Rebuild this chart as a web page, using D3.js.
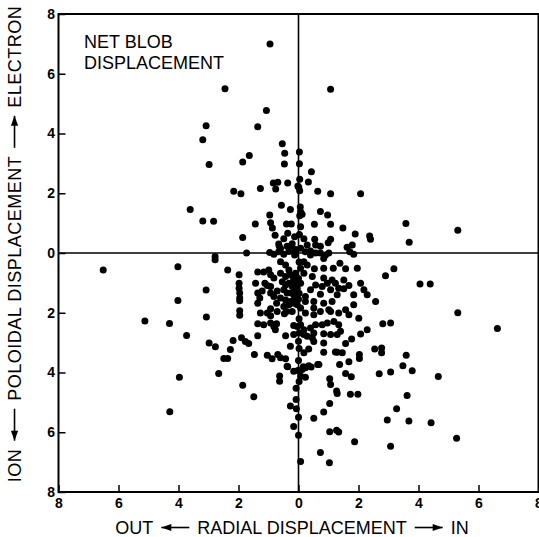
<!DOCTYPE html>
<html>
<head>
<meta charset="utf-8">
<script src="https://cdn.jsdelivr.net/npm/d3@7"></script>
<style>
	body { margin: 0; background: #fff; }
	svg { display: block; font-family: "Liberation Sans", Arial, Helvetica, sans-serif; }
</style>
</head>
<body>
<div id="chart"></div>
<script>

// --------------------------------------------------------
// Blob displacements [radial, poloidal]
// (radial: + = in, poloidal: + = electron direction)

var upper_left = [
	[-0.95,7.0],[-2.45,5.5],[-1.07,4.77],[-3.08,4.26],[-1.36,4.23],[-3.19,3.79],[-0.54,3.66],
	[-0.46,3.34],[-1.64,3.26],[-2.98,2.96],[-1.86,3.05],[-0.47,2.98],[-0.84,2.34],[-0.69,2.37],
	[-0.36,2.34],[-0.76,2.14],[-1.27,2.16],[-2.16,2.07],[-1.92,1.98],[-0.02,2.24],[-3.61,1.46],
	[-3.19,1.07],[-2.83,1.06],[-0.57,1.6],[-0.27,1.46],[-0.96,1.27],[-1.44,0.97],[-0.4,0.97],
	[-0.24,0.97],[-0.93,1.01],[-0.87,0.84],[-1.86,0.52],[-0.78,0.59],[-0.36,0.66],[-0.49,0.48],
	[-0.13,0.54],[-0.38,0.23],[-0.27,0.23],[-0.64,0.23],[-0.66,0.3],[-0.6,0.14],[-0.21,0.31],
	[-0.1,0.12],[-0.96,0.02],[-0.66,0.04],[-0.32,0.05],[-0.1,0.04],[-1.73,0.0]
];

var upper_right = [
	[1.07,5.48],[0.03,3.38],[0.03,2.99],[0.43,2.72],[0.33,2.38],[0.04,2.47],[0.01,2.2],
	[0.04,2.08],[0.64,2.07],[1.07,1.98],[2.07,1.98],[0.06,1.54],[0.07,1.38],[0.12,1.3],
	[0.04,1.25],[0.73,1.39],[0.97,1.27],[0.07,0.88],[0.03,0.62],[0.53,0.96],[1.07,0.96],
	[1.48,0.84],[1.89,0.64],[2.37,0.57],[2.4,0.46],[3.58,0.99],[5.31,0.76],[3.69,0.36],
	[0.18,0.48],[0.54,0.46],[1.07,0.46],[0.99,0.34],[0.73,0.23],[0.29,0.27],[0.57,0.27],
	[1.62,0.19],[1.79,0.27],[1.71,0.04],[0.4,0.07],[0.07,0.16],[0.23,0.04],[0.57,0.0],
	[0.73,0.0],[1.01,0.0]
];

var lower_left = [
	[-0.82,-0.04],[-0.49,-0.04],[-0.13,-0.07],
	[-6.51,-0.57],[-4.02,-0.46],[-2.78,-0.12],[-2.78,-0.23],[-2.36,-0.57],[-1.98,-0.73],
	[-1.36,-0.64],[-1.16,-0.64],[-0.99,-0.57],[-0.93,-0.73],[-0.82,-0.84],[-0.6,-0.29],
	[-0.43,-0.4],[-0.32,-0.57],[-0.6,-0.68],[-0.43,-0.79],[-0.27,-0.73],[-0.16,-0.84],[-0.1,-0.68],
	[-1.98,-1.01],[-1.98,-1.18],[-1.96,-1.34],[-1.96,-1.51],[-1.96,-1.6],[-1.96,-1.93],[-1.96,-2.08],
	[-3.08,-1.24],[-4.02,-1.59],[-1.43,-1.01],[-1.36,-1.34],[-1.29,-1.51],[-1.36,-1.68],
	[-1.12,-1.01],[-1.04,-1.09],[-0.93,-1.12],[-1.21,-1.27],[-0.93,-1.34],[-0.82,-1.46],
	[-0.71,-1.27],[-0.54,-0.96],[-0.43,-1.07],[-0.32,-1.01],[-0.21,-1.12],[-0.1,-1.01],
	[-0.49,-1.23],[-0.38,-1.34],[-0.24,-1.34],[-0.1,-1.29],[-0.6,-1.51],[-0.43,-1.57],
	[-0.27,-1.62],[-0.13,-1.51],[-0.73,-1.68],[-0.49,-1.79],[-0.32,-1.73],[-0.04,-1.73],
	[-0.93,-1.87],[-0.71,-1.96],[-0.4,-1.96],[-0.21,-1.96],[-1.04,-2.01],[-1.27,-2.01],
	[-0.16,-0.9],[-0.04,-1.18],[-0.16,-1.4],[-0.16,-1.68],
	[-4.3,-2.36],[-3.07,-2.14],[-3.73,-2.76],[-2.98,-3.01],[-2.77,-3.14],[-2.18,-2.93],
	[-2.27,-3.23],[-1.9,-2.84],[-1.77,-2.96],[-1.66,-3.03],[-2.49,-3.53],[-2.36,-3.53],
	[-2.66,-4.03],[-3.97,-4.16],[-1.86,-4.43],[-1.49,-4.81],[-4.29,-5.31],[-5.12,-2.28],
	[-0.93,-2.1],[-0.47,-2.03],[-1.36,-2.37],[-1.16,-2.4],[-0.93,-2.34],[-0.82,-2.46],
	[-0.73,-2.37],[-0.77,-2.57],[-0.16,-2.43],[-0.04,-2.46],[-1.36,-2.77],[-0.43,-2.77],
	[-0.16,-2.73],[-0.27,-3.12],[-1.47,-3.4],[-1.04,-3.42],[-0.88,-3.54],[-0.69,-3.4],
	[-0.6,-3.51],[-0.43,-3.54],[-0.36,-3.81],[-0.16,-3.96],[-0.63,-4.12],[-0.63,-4.29],
	[-0.08,-4.53],[-0.08,-4.9],[-0.27,-5.12],[-0.07,-5.21],[-0.16,-5.81],[-0.38,-3.79],
	[-0.02,-3.93]
];

var lower_right = [
	[0.4,-0.07],[0.9,-0.07],[1.84,-0.04],[0.84,-0.18],
	[0.18,-0.29],[0.29,-0.4],[0.07,-0.51],[0.18,-0.68],[0.53,-0.53],[0.84,-0.51],[1.16,-0.51],
	[1.38,-0.34],[1.57,-0.53],[1.96,-0.51],[3.18,-0.53],[2.9,-0.76],[0.46,-0.79],[0.84,-0.84],
	[1.12,-0.9],[1.23,-1.01],[1.51,-0.9],[0.79,-1.12],[0.57,-1.07],[0.96,-1.01],[1.07,-1.23],
	[1.34,-1.18],[1.51,-1.2],[1.68,-1.09],[2.07,-1.01],[2.18,-1.23],[2.29,-1.4],[1.84,-1.4],
	[1.29,-1.4],[0.73,-1.38],[0.4,-1.23],[0.07,-1.01],[0.23,-1.46],[0.23,-1.62],[0.51,-1.62],
	[0.84,-1.68],[1.12,-1.62],[1.84,-1.73],[2.57,-1.62],[1.57,-1.9],[1.01,-1.9],[0.51,-1.84],
	[0.07,-1.84],[4.05,-1.04],[4.39,-1.04],
	[5.31,-2.0],[6.63,-2.53],[2.81,-2.37],[3.07,-2.34],[2.29,-2.57],[2.07,-2.71],[1.77,-2.88],
	[1.57,-3.03],[1.46,-3.34],[1.23,-3.31],[2.54,-3.21],[2.77,-3.18],[2.77,-3.34],[2.03,-3.4],
	[2.03,-3.53],[3.59,-3.42],[3.48,-3.77],[3.79,-3.94],[3.07,-3.98],[2.69,-4.04],[4.66,-4.13],
	[1.68,-3.64],[1.37,-3.73],[1.57,-4.03],[1.76,-4.14],[1.04,-4.21],[1.07,-4.4],[1.27,-4.62],
	[1.29,-4.7],[1.73,-4.73],[1.98,-4.73],[3.62,-4.77],[3.27,-5.21],[2.96,-5.59],[3.68,-5.62],
	[4.42,-5.68],[5.27,-6.2],[3.07,-6.47],[1.87,-6.32],[1.04,-5.04],[0.84,-5.32],[0.51,-5.53],
	[1.04,-5.98],[1.27,-5.93],[1.34,-5.99],[0.73,-6.68],[1.03,-7.02],[0.07,-6.98],[0.07,-4.12],
	[0.23,-4.16],[0.16,-3.81],[0.34,-3.77],[0.42,-3.82],[0.64,-3.73],
	[0.23,-2.01],[0.51,-2.07],[0.73,-1.96],[1.07,-1.96],[1.34,-2.01],[1.68,-2.07],[2.01,-2.18],
	[0.07,-2.4],[0.18,-2.57],[0.4,-2.51],[0.57,-2.4],[0.79,-2.4],[0.96,-2.34],[1.18,-2.29],
	[1.34,-2.4],[0.02,-2.68],[0.18,-2.73],[0.51,-2.68],[0.84,-2.7],[1.07,-2.73],[1.29,-2.73],
	[1.4,-2.62],[0.84,-3.01],[0.51,-2.96],[0.46,-2.84],[0.29,-2.79],[0.84,-3.32],[1.29,-3.32],
	[0.34,-3.21],[0.18,-3.34],[0.68,-3.73],[0.23,-3.84],[0.12,-3.9],
	[0.02,-0.3],[0.0,-0.85],[0.02,-1.35],[0.0,-1.55],[0.02,-2.2],[0.0,-2.95],[0.02,-3.2],
	[0.0,-3.6],[0.02,-4.3],[0.0,-5.5],[0.0,-6.1]
];

// tick values; labels show magnitude only
var tick_values = [-8, -6, -4, -2, 0, 2, 4, 6, 8];

var x_title = ["OUT", "<", "RADIAL DISPLACEMENT", ">", "IN"];
var y_title = ["ION", "<", "POLOIDAL DISPLACEMENT", ">", "ELECTRON"];
var note_lines = ["NET BLOB", "DISPLACEMENT"];

var data = upper_left.concat(upper_right, lower_left, lower_right);

// --------------------------------------------------------
// Chart size parameters
var chart_width  = 539;
var chart_height = 537;

var svg = d3.select("#chart")
	.append("svg")
	.attr("width", chart_width)
	.attr("height", chart_height);

// --------------------------------------------------------
// Scales
var x_scale = d3.scaleLinear().domain([-8, 8]).range([58.5, 538.5]);
var y_scale = d3.scaleLinear().domain([-8, 8]).range([492, 14]);

// --------------------------------------------------------
// Axes (ticks point inward, labels are absolute values)
var x_axis = d3.axisBottom(x_scale)
	.tickValues(tick_values)
	.tickSizeInner(-7)
	.tickSizeOuter(0)
	.tickPadding(6)
	.tickFormat(function(d) { return Math.abs(d); });

var y_axis = d3.axisLeft(y_scale)
	.tickValues(tick_values)
	.tickSizeInner(-7)
	.tickSizeOuter(0)
	.tickPadding(3.5)
	.tickFormat(function(d) { return Math.abs(d); });

var gx = svg.append("g")
	.attr("class", "x-axis")
	.attr("transform", "translate(0," + y_scale(-8) + ")")
	.call(x_axis);

var gy = svg.append("g")
	.attr("class", "y-axis")
	.attr("transform", "translate(" + x_scale(-8) + ",0)")
	.call(y_axis);

[gx, gy].forEach(function(g) {
	g.select(".domain").remove();
	g.selectAll(".tick line").attr("stroke", "#000").attr("stroke-width", 1.5);
	g.selectAll(".tick text")
		.attr("fill", "#000")
		.style("font-family", "'Liberation Sans', Arial, sans-serif")
		.style("font-size", "14px")
		.style("font-weight", "bold");
});

// frame
svg.append("rect")
	.attr("x", x_scale(-8))
	.attr("y", y_scale(8))
	.attr("width", x_scale(8) - x_scale(-8))
	.attr("height", y_scale(-8) - y_scale(8))
	.attr("fill", "none")
	.attr("stroke", "#000")
	.attr("stroke-width", 2);

// zero cross lines
svg.append("line")
	.attr("x1", x_scale(-8)).attr("x2", x_scale(8))
	.attr("y1", y_scale(0)).attr("y2", y_scale(0))
	.attr("stroke", "#000").attr("stroke-width", 1.6);

svg.append("line")
	.attr("x1", x_scale(0)).attr("x2", x_scale(0))
	.attr("y1", y_scale(8)).attr("y2", y_scale(-8))
	.attr("stroke", "#000").attr("stroke-width", 1.6);

// --------------------------------------------------------
// Points
svg.append("g")
	.attr("id", "plot-area")
	.selectAll("circle")
	.data(data)
	.enter()
	.append("circle")
	.attr("cx", function(d) { return x_scale(d[0]); })
	.attr("cy", function(d) { return y_scale(d[1]); })
	.attr("r", 3.5)
	.attr("fill", "#000");

// --------------------------------------------------------
// Note in the upper left corner
svg.append("text")
	.attr("x", 84)
	.attr("y", 48)
	.style("font-size", "18px")
	.selectAll("tspan")
	.data(note_lines)
	.enter()
	.append("tspan")
	.attr("x", 84)
	.attr("dy", function(d, i) { return i ? 20.5 : 0; })
	.text(function(d) { return d; });

// --------------------------------------------------------
// Axis titles with drawn arrows
function arrow_title(parent, parts, font_size, spacing, arrow_len) {
	var inner = parent.append("g");
	var cursor = 0, gap = 8, mid = -font_size * 0.36;
	parts.forEach(function(p) {
		if (p === "<" || p === ">") {
			var x0 = cursor + gap, x1 = x0 + arrow_len;
			inner.append("line")
				.attr("x1", x0).attr("x2", x1)
				.attr("y1", mid).attr("y2", mid)
				.attr("stroke", "#000").attr("stroke-width", 1.6);
			var tip = p === "<" ? x0 : x1;
			var back = p === "<" ? x0 + 10 : x1 - 10;
			inner.append("path")
				.attr("d", "M" + tip + "," + mid + "L" + back + "," + (mid - 3.6) + "L" + back + "," + (mid + 3.6) + "Z")
				.attr("fill", "#000");
			cursor = x1 + gap;
		} else {
			var t = inner.append("text")
				.attr("x", cursor)
				.attr("y", 0)
				.style("font-size", font_size + "px")
				.style("letter-spacing", spacing + "px")
				.text(p);
			cursor += t.node().getComputedTextLength();
		}
	});
	inner.attr("transform", "translate(" + (-cursor / 2) + ",0)");
}

arrow_title(svg.append("g").attr("transform", "translate(292,534)"), x_title, 18, 0, 28);
arrow_title(svg.append("g").attr("transform", "translate(21,244) rotate(-90)"), y_title, 18, 0.5, 32);

</script>
</body>
</html>
